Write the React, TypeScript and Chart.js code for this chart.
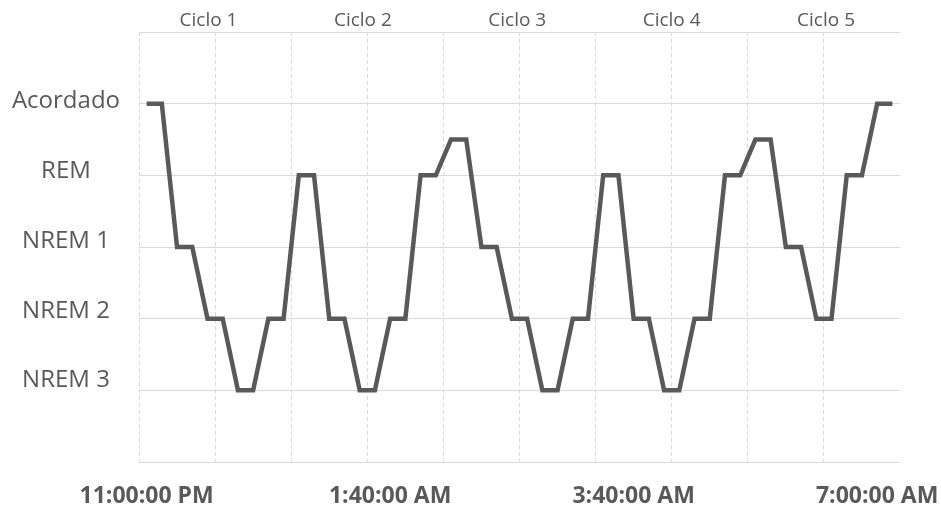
import { useEffect, useRef } from 'react';
import { Chart, registerables } from 'chart.js';

Chart.register(...registerables);

// Sleep stage names for levels 1..5
const stageNames = ['NREM 3', 'NREM 2', 'NREM 1', 'REM', 'Acordado'];

// Hypnogram: one value per time step (5 = awake ... 1 = deep sleep)
const sleepStage = [
  5, 5, 3, 3, 2, 2, 1, 1, 2, 2,
  4, 4, 2, 2, 1, 1, 2, 2, 4, 4,
  4.5, 4.5, 3, 3, 2, 2, 1, 1, 2, 2,
  4, 4, 2, 2, 1, 1, 2, 2, 4, 4,
  4.5, 4.5, 3, 3, 2, 2, 4, 4, 5, 5,
];

// Time labels shown under the axis and the steps they belong to
const timeTickIndex = [0, 16, 32, 48];
const timeTickLabels = ['11:00:00 PM', '1:40:00 AM', '3:40:00 AM', '7:00:00 AM'];

// Cycle names along the top
const cycleLabels = ['Ciclo 1', 'Ciclo 2', 'Ciclo 3', 'Ciclo 4', 'Ciclo 5'];

const INK = '#595959';
const GRID = '#d9d9d9';
const FONT = '"Open Sans", sans-serif';

export default function App() {
  const canvasRef = useRef<HTMLCanvasElement | null>(null);

  useEffect(() => {
    if (!canvasRef.current) return;
    const categories = sleepStage.map((_, i) => {
      const k = timeTickIndex.indexOf(i);
      return k >= 0 ? timeTickLabels[k] : '';
    });

    const chart = new Chart(canvasRef.current, {
      type: 'line',
      data: {
        labels: categories,
        datasets: [
          {
            data: sleepStage,
            borderColor: INK,
            borderWidth: 4.5,
            pointRadius: 0,
            tension: 0,
            fill: false,
            xAxisID: 'x',
            yAxisID: 'y',
          },
        ],
      },
      options: {
        animation: false,
        responsive: true,
        maintainAspectRatio: false,
        layout: { padding: { left: 0, right: 41, top: 0, bottom: 0 } },
        plugins: { legend: { display: false }, tooltip: { enabled: false } },
        scales: {
          x: {
            type: 'category',
            position: 'bottom',
            offset: true,
            grid: {
              offset: true,
              drawTicks: false,
              lineWidth: 1,
              color: (ctx: any) => (ctx.index % 5 === 0 ? GRID : 'rgba(0,0,0,0)'),
            },
            border: { display: false, dash: [4, 3] },
            ticks: {
              autoSkip: false,
              maxRotation: 0,
              minRotation: 0,
              padding: 21,
              color: INK,
              font: { family: FONT, size: 23, weight: 'bold' },
            },
            afterFit: (s: any) => {
              s.height = 45;
            },
          },
          // cycle names, spread along the top edge
          x2: {
            type: 'linear',
            position: 'top',
            min: 0.55,
            max: 5.479,
            afterBuildTicks: (s: any) => {
              s.ticks = cycleLabels.map((_, i) => ({ value: i + 1 }));
            },
            grid: { display: false },
            border: { display: false },
            ticks: {
              autoSkip: false,
              maxRotation: 0,
              padding: -8,
              color: INK,
              font: { family: FONT, size: 19 },
              callback: (v: any) => cycleLabels[Number(v) - 1] ?? '',
            },
            afterFit: (s: any) => {
              s.height = 32;
            },
          },
          y: {
            type: 'linear',
            position: 'left',
            min: 0,
            max: 6,
            ticks: { display: false, stepSize: 1 },
            grid: { color: GRID, lineWidth: 1, drawTicks: false },
            border: { display: false },
            afterFit: (s: any) => {
              s.width = 0;
            },
          },
          // stage names on the left
          y2: {
            type: 'linear',
            position: 'left',
            min: -0.167,
            max: 5.992,
            afterBuildTicks: (s: any) => {
              s.ticks = stageNames.map((_, i) => ({ value: i + 1 }));
            },
            ticks: {
              crossAlign: 'center',
              padding: 11,
              color: INK,
              font: { family: FONT, size: 24 },
              callback: (v: any) => stageNames[Number(v) - 1] ?? '',
            },
            grid: { display: false },
            border: { display: false },
            afterFit: (s: any) => {
              s.width = 139;
            },
          },
        },
      },
    });

    return () => chart.destroy();
  }, []);

  return (
    <div style={{ position: 'absolute', left: 0, top: 0, width: 941, height: 507, background: '#fff' }}>
      <canvas ref={canvasRef} />
    </div>
  );
}
